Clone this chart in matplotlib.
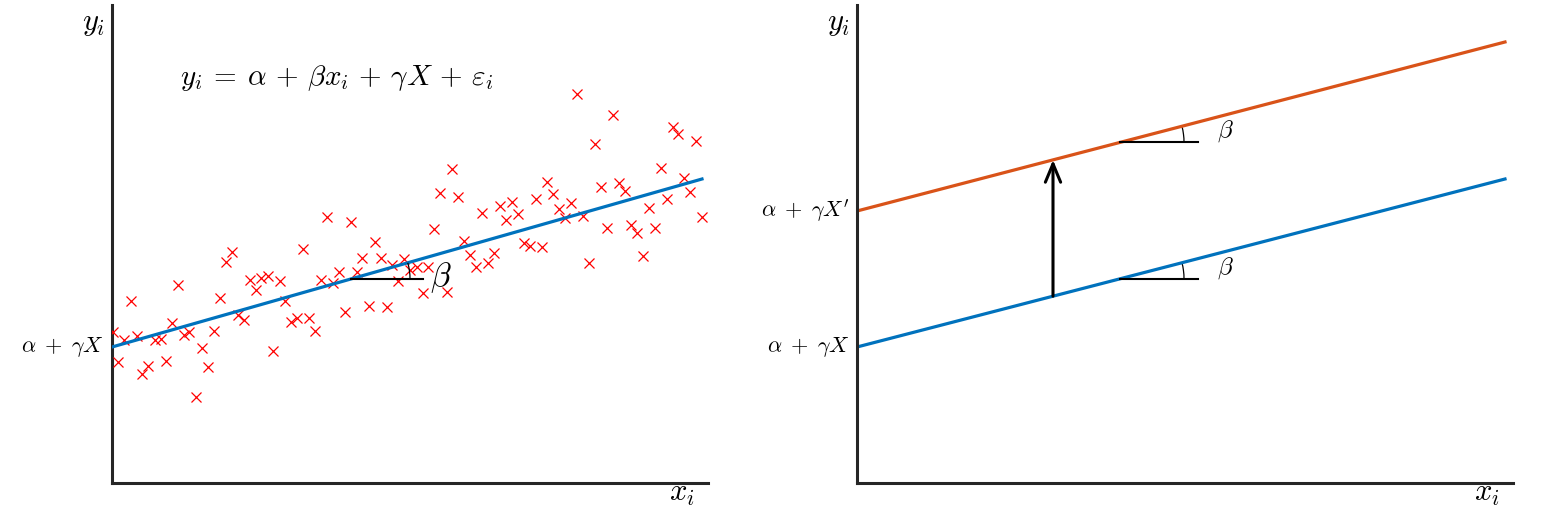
import matplotlib
matplotlib.use("Agg")
import matplotlib.pyplot as plt
from matplotlib.patches import Arc
import numpy as np

plt.rcParams['mathtext.fontset'] = 'cm'
plt.rcParams['font.family'] = ['DejaVu Sans']

# ---- data (units: arbitrary) ----
scatter_x = [1, 6, 12, 19, 25, 30, 36, 43, 49, 54, 60, 66, 72, 77, 84, 90, 96, 102, 108, 114,
             120, 126, 132, 138, 144, 149, 156, 161, 168, 173, 179, 185, 191, 197, 203, 209, 215, 221, 227, 233,
             239, 245, 250, 257, 263, 269, 275, 280, 286, 292, 298, 305, 311, 316, 322, 328, 335, 340, 346, 352,
             358, 364, 370, 376, 382, 388, 394, 400, 406, 412, 418, 424, 430, 435, 441, 447, 453, 459, 465, 471,
             477, 483, 489, 495, 501, 507, 513, 519, 525, 531, 537, 543, 549, 555, 561, 566, 572, 578, 584, 590]
scatter_y = [151, 121, 143, 182, 147, 109, 117, 143, 144, 122, 160, 198, 148, 151, 86, 135, 116, 152, 185, 221,
             231, 168, 163, 203, 193, 205, 207, 132, 202, 182, 161, 165, 234, 165, 152, 203, 266, 200, 211, 171,
             261, 211, 225, 177, 241, 225, 176, 218, 202, 224, 213, 216, 190, 216, 254, 290, 191, 314, 286, 242,
             228, 216, 270, 220, 230, 277, 263, 281, 269, 240, 237, 284, 236, 301, 289, 274, 265, 280, 389, 267,
             220, 339, 296, 255, 368, 300, 292, 258, 250, 227, 275, 255, 315, 284, 356, 349, 305, 291, 342, 266]

fit_x = [0, 590]
fit_y = [136, 304]

right_x = [0, 648]
blue_y = [136, 304]
orange_y = [272, 441]

BLUE = '#0072BD'
ORANGE = '#D95319'
SPINE = '#262626'

fig = plt.figure(figsize=(15.46, 5.25), dpi=100)
ax1 = fig.add_axes([112/1546, 42/525, 596/1546, 478/525])
ax2 = fig.add_axes([857/1546, 42/525, 656/1546, 478/525])

for ax, w in ((ax1, 596), (ax2, 656)):
    ax.set_xlim(0, w)
    ax.set_ylim(0, 478)
    for s in ('top', 'right'):
        ax.spines[s].set_visible(False)
    for s in ('left', 'bottom'):
        ax.spines[s].set_linewidth(2.2)
        ax.spines[s].set_color(SPINE)
    ax.set_xticks([])
    ax.set_yticks([])

# ---- left panel ----
ax1.plot(scatter_x, scatter_y, linestyle='none', marker='x', color='red',
         markersize=6.5, markeredgewidth=0.9, zorder=3)
ax1.plot(fit_x, fit_y, color=BLUE, lw=2.3, zorder=4)

slope1 = (fit_y[1] - fit_y[0]) / (fit_x[1] - fit_x[0])
ang1 = np.degrees(np.arctan(slope1))
x0 = 239
y0 = fit_y[0] + slope1 * x0
ax1.plot([x0, 311], [y0, y0], color='k', lw=1.5, zorder=5)
r = 59
ax1.add_patch(Arc((x0, y0), 2*r, 2*r, theta1=0, theta2=ang1, color='k', lw=0.9, zorder=5))
ax1.text(318, y0 + 1, r'$\beta$', fontsize=24, ha='left', va='center')

ax1.text(68, 398,
         r'$y_i \:=\: \alpha \,+\, \beta x_i \,+\, \gamma X \,+\, \varepsilon_i$',
         fontsize=21, ha='left', va='baseline')
ax1.text(-8, fit_y[0], r'$\alpha \;+\; \gamma X$', fontsize=16, ha='right', va='center')
ax1.text(-7, 460, r'$y_i$', fontsize=22, ha='right', va='center')
ax1.text(570, -11, r'$x_i$', fontsize=22, ha='center', va='center')

# ---- right panel ----
ax2.plot(right_x, orange_y, color=ORANGE, lw=2.3)
ax2.plot(right_x, blue_y, color=BLUE, lw=2.3)

slope_b = (blue_y[1] - blue_y[0]) / (right_x[1] - right_x[0])
slope_o = (orange_y[1] - orange_y[0]) / (right_x[1] - right_x[0])
xa = 196
ax2.annotate('', xy=(xa, orange_y[0] + slope_o * xa), xytext=(xa, blue_y[0] + slope_b * xa),
             arrowprops=dict(arrowstyle='->,head_length=0.6,head_width=0.25', lw=2.2, color='k',
                             shrinkA=0, shrinkB=0, mutation_scale=22))

for base, sl in ((blue_y[0], slope_b), (orange_y[0], slope_o)):
    xm = 263
    ym = base + sl * xm
    ax2.plot([xm, 341], [ym, ym], color='k', lw=1.5)
    rr = 64
    ax2.add_patch(Arc((xm, ym), 2*rr, 2*rr, theta1=0, theta2=np.degrees(np.arctan(sl)),
                      color='k', lw=0.9))
    ax2.text(360, ym + 11, r'$\beta$', fontsize=18, ha='left', va='center')

ax2.text(-7, orange_y[0], r"$\alpha \;+\; \gamma X'$", fontsize=16, ha='right', va='center')
ax2.text(-7, blue_y[0], r'$\alpha \;+\; \gamma X$', fontsize=16, ha='right', va='center')
ax2.text(-7, 460, r'$y_i$', fontsize=22, ha='right', va='center')
ax2.text(630, -11, r'$x_i$', fontsize=22, ha='center', va='center')

fig.savefig('out.png', dpi=100)
